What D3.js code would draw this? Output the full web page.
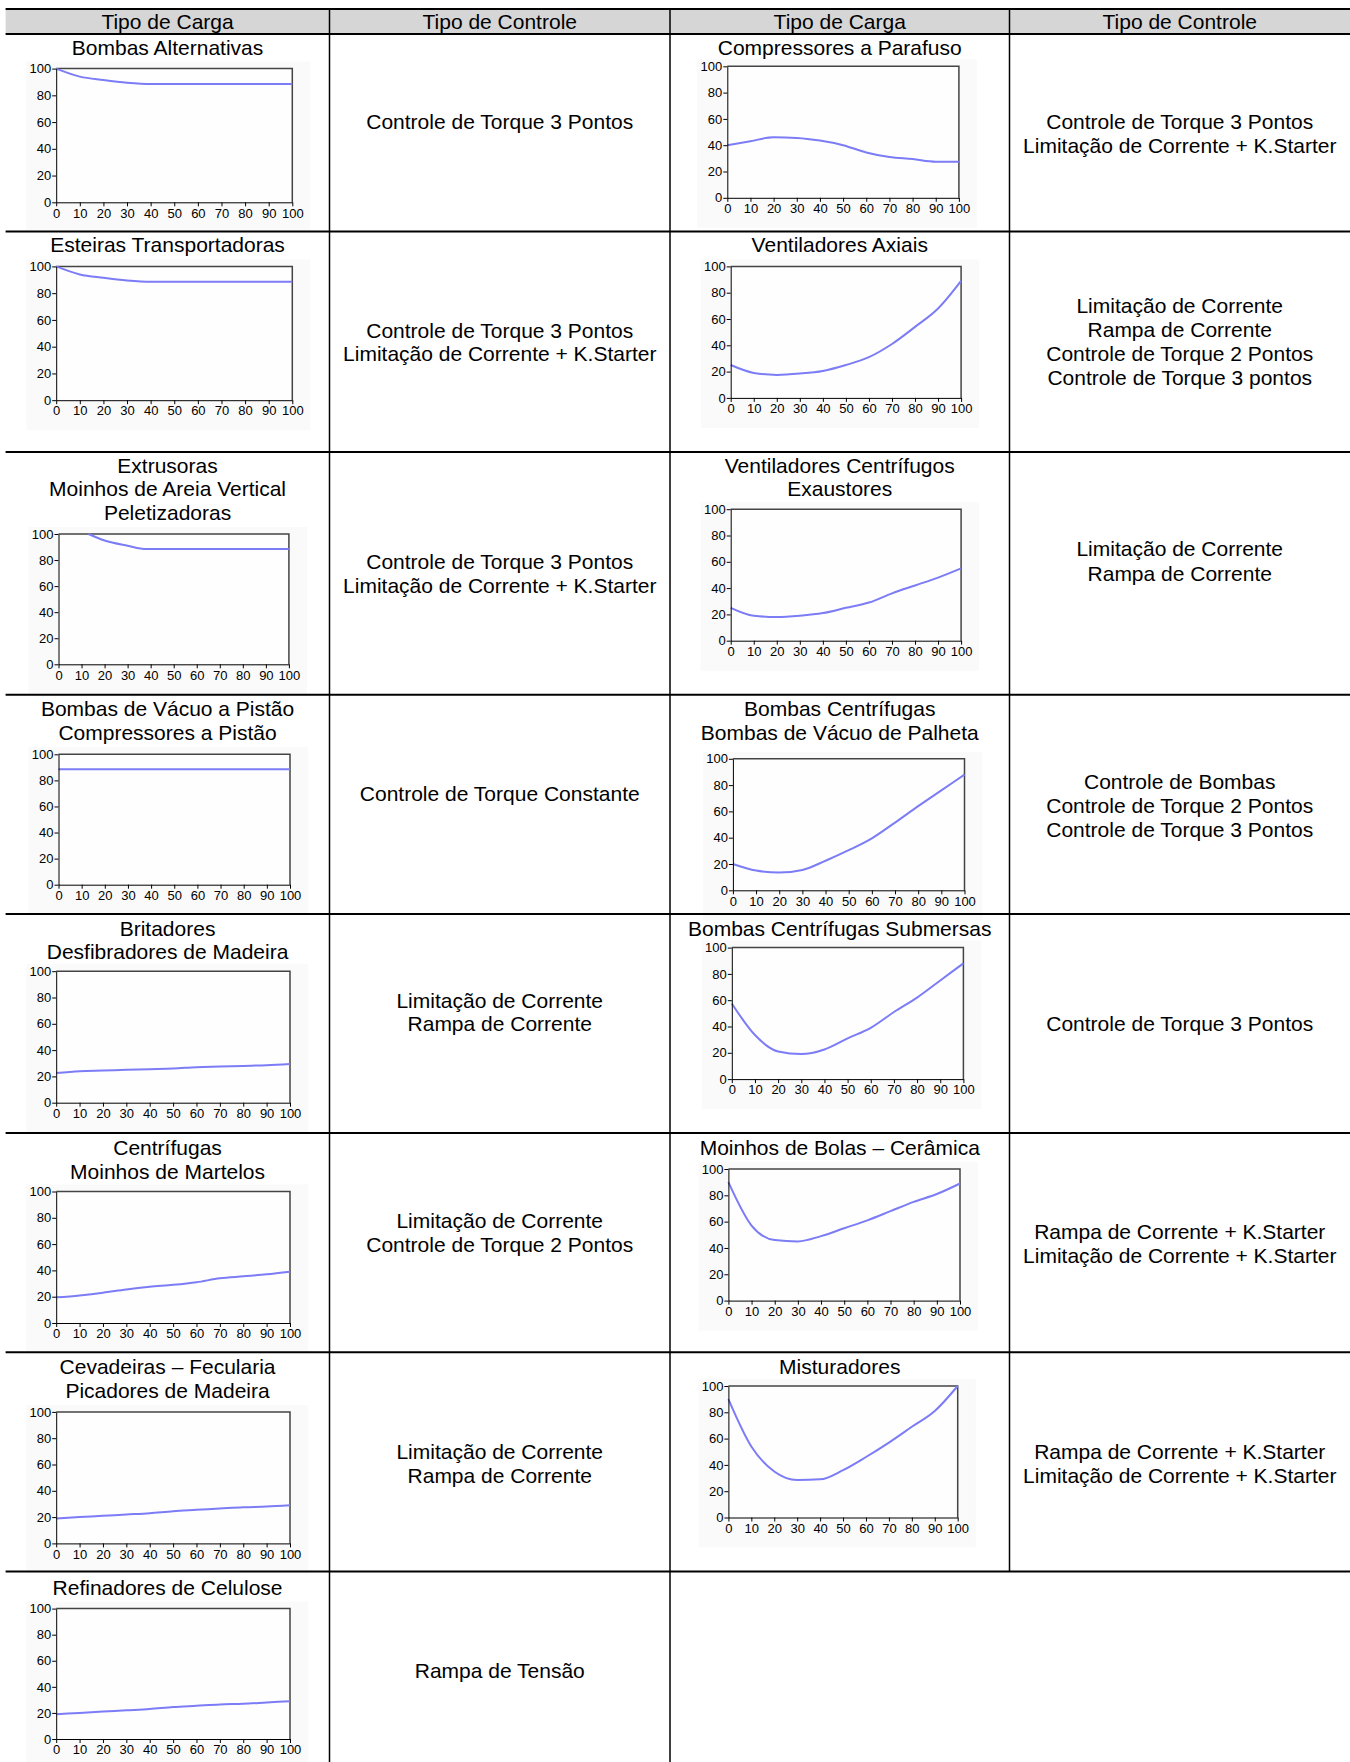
<!DOCTYPE html>
<html><head><meta charset="utf-8">
<script src="https://cdn.jsdelivr.net/npm/d3@7"></script>
<style>
html,body{margin:0;padding:0;background:#fff;}
svg{display:block;font-family:"Liberation Sans",Arial,sans-serif;}
</style></head><body>
<svg id="c" width="1350" height="1762"></svg>
<script>
// ---------- DATA ----------
const headers = ["Tipo de Carga", "Tipo de Controle", "Tipo de Carga", "Tipo de Controle"];
const xTicks = [0, 10, 20, 30, 40, 50, 60, 70, 80, 90, 100];
const yTicks = [0, 20, 40, 60, 80, 100];
const speed = [0, 10, 20, 30, 40, 50, 60, 70, 80, 90, 100];
const speedExtrusoras = [13, 20, 30, 38, 50, 60, 70, 80, 90, 100];

const bombasAlternativas   = [100, 94, 91.5, 89.5, 88.5, 88.5, 88.5, 88.5, 88.5, 88.5, 88.5];
const esteiras             = [100, 94, 91.5, 89.5, 88.5, 88.5, 88.5, 88.5, 88.5, 88.5, 88.5];
const extrusoras           = [100, 95, 91, 88.5, 88.5, 88.5, 88.5, 88.5, 88.5, 88.5];
const bombasVacuoPistao    = [88.5, 88.5, 88.5, 88.5, 88.5, 88.5, 88.5, 88.5, 88.5, 88.5, 88.5];
const britadores           = [22.5, 24, 24.5, 25, 25.5, 26, 27, 27.5, 28, 28.5, 29.5];
const centrifugas          = [19.5, 21, 23, 25.5, 27.5, 29, 31, 34, 35.5, 37, 39];
const cevadeiras           = [19, 20, 21, 22, 23, 24.5, 25.5, 26.5, 27.5, 28, 29];
const refinadores          = [19, 20, 21, 22, 23, 24.5, 25.5, 26.5, 27, 28, 29];
const compressoresParafuso = [40, 43, 46, 45.5, 43.5, 40, 34.5, 31, 29.5, 27.5, 27.5];
const ventAxiais           = [25, 19, 17.5, 18.5, 20.5, 25, 31, 41, 54, 68, 89];
const ventCentrifugos      = [25, 19, 18, 19, 21, 25, 29, 36, 42, 48, 55];
const bombasCentrifugas    = [20, 15, 13.5, 15.5, 22.5, 30.5, 39.5, 51.5, 64, 76, 88];
const bombasSubmersas      = [57.5, 33.5, 21, 19, 22.5, 31, 39, 51, 62, 75, 88];
const moinhosBolas         = [90, 57, 46, 45, 49, 55, 61, 68, 75, 81, 89];
const misturadores         = [90, 54, 35, 28.5, 29, 36, 46, 57, 69, 81, 100];

const chartTitles = [
  ["Bombas Alternativas"],
  ["Esteiras Transportadoras"],
  ["Extrusoras", "Moinhos de Areia Vertical", "Peletizadoras"],
  ["Bombas de Vácuo a Pistão", "Compressores a Pistão"],
  ["Britadores", "Desfibradores de Madeira"],
  ["Centrífugas", "Moinhos de Martelos"],
  ["Cevadeiras – Fecularia", "Picadores de Madeira"],
  ["Refinadores de Celulose"],
  ["Compressores a Parafuso"],
  ["Ventiladores Axiais"],
  ["Ventiladores Centrífugos", "Exaustores"],
  ["Bombas Centrífugas", "Bombas de Vácuo de Palheta"],
  ["Bombas Centrífugas Submersas"],
  ["Moinhos de Bolas – Cerâmica"],
  ["Misturadores"]
];
const chartX = [speed, speed, speedExtrusoras, speed, speed, speed, speed, speed,
                speed, speed, speed, speed, speed, speed, speed];
const chartY = [bombasAlternativas, esteiras, extrusoras, bombasVacuoPistao, britadores,
                centrifugas, cevadeiras, refinadores, compressoresParafuso, ventAxiais,
                ventCentrifugos, bombasCentrifugas, bombasSubmersas, moinhosBolas, misturadores];

const controlTexts = [
  ["Controle de Torque 3 Pontos"],
  ["Controle de Torque 3 Pontos", "Limitação de Corrente + K.Starter"],
  ["Controle de Torque 3 Pontos", "Limitação de Corrente + K.Starter"],
  ["Controle de Torque Constante"],
  ["Limitação de Corrente", "Rampa de Corrente"],
  ["Limitação de Corrente", "Controle de Torque 2 Pontos"],
  ["Limitação de Corrente", "Rampa de Corrente"],
  ["Rampa de Tensão"],
  ["Controle de Torque 3 Pontos", "Limitação de Corrente + K.Starter"],
  ["Limitação de Corrente", "Rampa de Corrente", "Controle de Torque 2 Pontos", "Controle de Torque 3 pontos"],
  ["Limitação de Corrente", "Rampa de Corrente"],
  ["Controle de Bombas", "Controle de Torque 2 Pontos", "Controle de Torque 3 Pontos"],
  ["Controle de Torque 3 Pontos"],
  ["Rampa de Corrente + K.Starter", "Limitação de Corrente + K.Starter"],
  ["Rampa de Corrente + K.Starter", "Limitação de Corrente + K.Starter"]
];

// ---------- LAYOUT ----------
const colEdges = [5.6, 329.5, 670, 1009.5, 1350];
const rowEdges = [9, 34, 231.6, 451.9, 694.7, 913.9, 1133.1, 1352.3, 1571.5, 1762];
const chartBoxes = [
  [56.2, 68.6, 292.3, 202.3], [56.2, 266.4, 292.3, 400.2], [58.5, 534, 288.9, 664.3],
  [58.5, 754.3, 290, 884.7], [56.2, 971.2, 290, 1102.7], [56.2, 1191.5, 290, 1323],
  [56.2, 1411.9, 290, 1543.4], [56.2, 1608.6, 290, 1739],
  [727.3, 66.3, 958.9, 197.8], [730.7, 266.4, 961.1, 397.9], [730.7, 509.2, 961.1, 640.7],
  [732.9, 758.8, 964.5, 890.3], [731.8, 947.6, 963.4, 1079.1], [728.4, 1169, 960, 1300.6],
  [728.4, 1386, 957.7, 1517.5]
];
const titleYs = [[47.2], [245], [465.4, 489, 512.6], [708.2, 733], [928.5, 952.1],
  [1147.7, 1171.3], [1366.9, 1390.5], [1587.2], [47.2], [245], [465.4, 489],
  [708.2, 733], [928.5], [1147.7], [1366.9]];
const controlCol = [1,1,1,1,1,1,1,1,3,3,3,3,3,3,3];
const controlYs = [[121.4], [330.5, 354.1], [562, 585.7], [793.6], [1000.5, 1024],
  [1220.8, 1244.4], [1451.2, 1476], [1670.4],
  [121.4, 146.1], [305.8, 329.4, 354.1, 377.7], [548.6, 573.3], [781.3, 806, 829.6],
  [1024], [1232, 1255.6], [1451.2, 1476]];

const FS = 21;
const svg = d3.select("#c");
svg.append("rect").attr("width", 1350).attr("height", 1762).attr("fill", "#fff");

// header background
svg.append("rect").attr("x", colEdges[0]).attr("y", rowEdges[0])
  .attr("width", colEdges[4] - colEdges[0]).attr("height", rowEdges[1] - rowEdges[0])
  .attr("fill", "#d6d6d6");
headers.forEach((h, i) => {
  svg.append("text").attr("x", (colEdges[i] + colEdges[i + 1]) / 2).attr("y", 21.5 + 7.3)
    .attr("text-anchor", "middle").attr("font-size", FS).attr("fill", "#000").text(h);
});

// charts
const line = d3.line().curve(d3.curveMonotoneX);
chartY.forEach((vals, i) => {
  const [L, T, R, B] = chartBoxes[i];
  const x = d3.scaleLinear().domain([0, 100]).range([L, R]);
  const y = d3.scaleLinear().domain([0, 100]).range([B, T]);
  const g = svg.append("g");
  g.append("rect").attr("x", L - 30).attr("y", T - 7).attr("width", R - L + 48)
    .attr("height", B - T + 37).attr("fill", "#fafafa");
  g.append("rect").attr("x", L).attr("y", T).attr("width", R - L).attr("height", B - T)
    .attr("fill", "#fefefe");
  g.append("path").attr("d", `M${L},${T}H${R}V${B}`).attr("fill", "none")
    .attr("stroke", "#444").attr("stroke-width", 1.5);
  const pts = vals.map((v, k) => [x(chartX[i][k]), y(v)]);
  g.append("path").attr("d", line(pts)).attr("fill", "none")
    .attr("stroke", "#7c7cf6").attr("stroke-width", 2).attr("stroke-linejoin", "round");
  const ax = g.append("g").attr("transform", `translate(0,${B})`)
    .call(d3.axisBottom(x).tickValues(xTicks).tickSize(4).tickSizeOuter(0).tickPadding(2));
  const ay = g.append("g").attr("transform", `translate(${L},0)`)
    .call(d3.axisLeft(y).tickValues(yTicks).tickSize(4).tickSizeOuter(0).tickPadding(1));
  [ax, ay].forEach(a => {
    a.attr("font-family", null).attr("font-size", 13);
    a.selectAll("text").attr("fill", "#000");
    a.selectAll("line").attr("stroke", "#000");
    a.select(".domain").attr("stroke", "#000");
  });
  const cx = (colEdges[i < 8 ? 0 : 2] + colEdges[i < 8 ? 1 : 3]) / 2;
  chartTitles[i].forEach((t, k) => {
    svg.append("text").attr("x", cx).attr("y", titleYs[i][k] + 7.3)
      .attr("text-anchor", "middle").attr("font-size", FS).attr("fill", "#000").text(t);
  });
});

// control texts
controlTexts.forEach((lines, i) => {
  const c = controlCol[i];
  const cx = (colEdges[c] + colEdges[c + 1]) / 2;
  lines.forEach((t, k) => {
    svg.append("text").attr("x", cx).attr("y", controlYs[i][k] + 7.3)
      .attr("text-anchor", "middle").attr("font-size", FS).attr("fill", "#000").text(t);
  });
});

// table lines
const hl = (yv, x1, x2) => svg.append("line").attr("x1", x1).attr("x2", x2)
  .attr("y1", yv).attr("y2", yv).attr("stroke", "#000").attr("stroke-width", 2);
for (let r = 0; r < rowEdges.length - 1; r++) hl(rowEdges[r], colEdges[0], 1350);
const vl = (xv, y1, y2) => svg.append("line").attr("x1", xv).attr("x2", xv)
  .attr("y1", y1).attr("y2", y2).attr("stroke", "#000").attr("stroke-width", 1.5);
vl(colEdges[1], rowEdges[0], 1762);
vl(colEdges[2], rowEdges[0], 1762);
vl(colEdges[3], rowEdges[0], rowEdges[8]);
</script>
</body></html>
